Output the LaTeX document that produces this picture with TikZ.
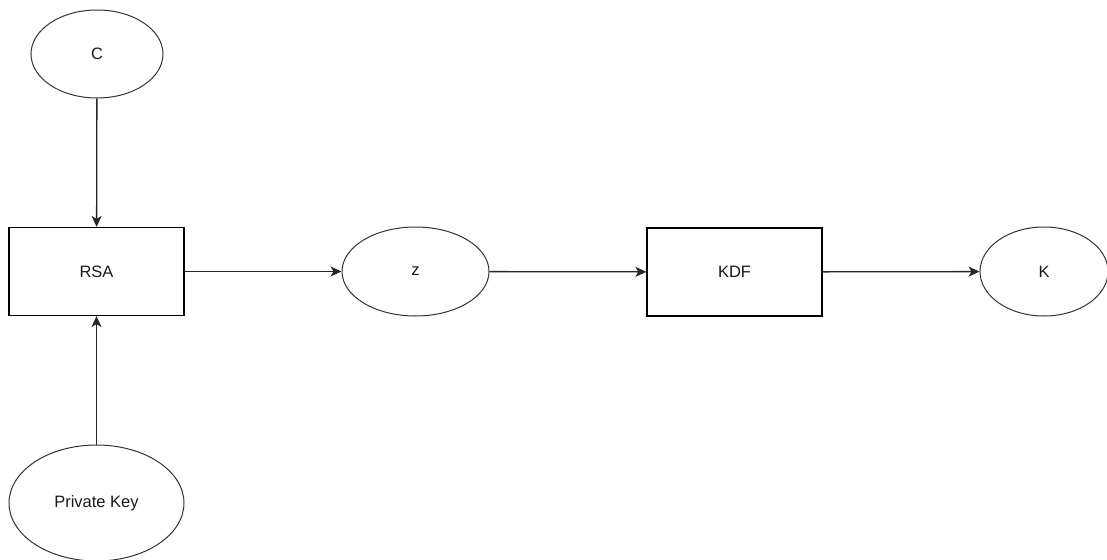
\documentclass[tikz,border=0pt]{standalone}
\usepackage{fontspec}
\setmainfont{Liberation Sans}
\usetikzlibrary{shapes.geometric,arrows.meta}
\begin{document}
\begin{tikzpicture}[x=1pt,y=-1pt,
  every node/.style={font=\fontsize{16.5}{19}\selectfont, text=black!90},
  oval/.style={draw=black!80, line width=1pt, ellipse, inner sep=0pt},
  box/.style={draw=black, line width=1.2pt, rectangle, inner sep=0pt, minimum width=175pt, minimum height=88pt},
  flow/.style={draw=black!85, line width=1.3pt, -{Stealth[length=11pt,width=10pt,inset=3pt]}}]
  \useasboundingbox (0,0) rectangle (1107,559);
  % nodes
  \node[oval, minimum width=132pt, minimum height=88pt] (c) at (97,54) {C};
  \node[box] (rsa) at (96.5,271.5) {RSA};
  \node[oval, minimum width=147pt, minimum height=89pt] (z) at (415.5,271.5) {z};
  \node[box] (kdf) at (734.5,272) {KDF};
  \node[oval, minimum width=128pt, minimum height=89pt] (k) at (1044,271.5) {K};
  \node[oval, minimum width=175pt, minimum height=116pt] (pk) at (96.5,503) {Private Key};
  % connectors
  \draw[flow] (c) -- (rsa);
  \draw[flow] (pk) -- (rsa);
  \draw[flow] (rsa) -- (z);
  \draw[flow] (z) -- (kdf);
  \draw[flow] (kdf) -- (k);
\end{tikzpicture}
\end{document}
